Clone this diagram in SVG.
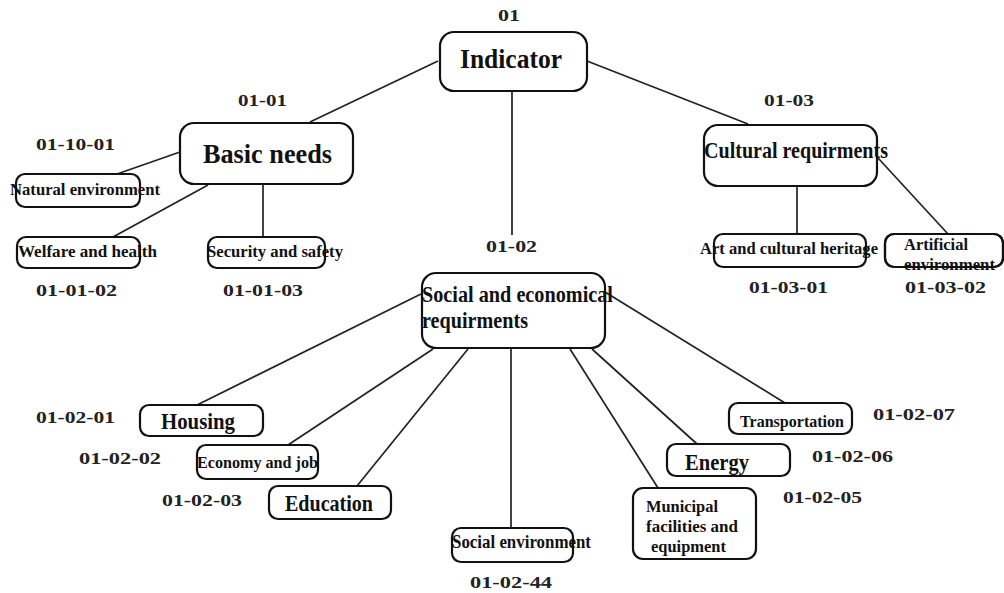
<svg xmlns="http://www.w3.org/2000/svg" width="1004" height="593" viewBox="0 0 1004 593">
<style>
.box{fill:#fff;stroke:#111;stroke-width:2.2}
.bo{fill:none;stroke:#111;stroke-width:2.2}
.t{font-family:"Liberation Serif","Times New Roman",serif;font-weight:bold;fill:#111}
.lb{font-family:"Liberation Serif","Times New Roman",serif;font-weight:bold;fill:#222;font-size:17px}
.c{stroke:#222;stroke-width:1.7;fill:none}
</style>
<rect width="1004" height="593" fill="#fff"/>
<g id="connectors">
<line class="c" x1="438" y1="61" x2="310" y2="122"/>
<line class="c" x1="587" y1="61" x2="748" y2="124"/>
<line class="c" x1="512" y1="91" x2="512" y2="235"/>
<line class="c" x1="180" y1="152" x2="117" y2="174"/>
<line class="c" x1="208" y1="185" x2="113" y2="237"/>
<line class="c" x1="263" y1="185" x2="263" y2="237"/>
<line class="c" x1="797" y1="186" x2="797" y2="233"/>
<line class="c" x1="878" y1="158" x2="948" y2="234"/>
<line class="c" x1="421" y1="294" x2="197" y2="405"/>
<line class="c" x1="433" y1="349" x2="288" y2="445"/>
<line class="c" x1="468" y1="349" x2="357" y2="486"/>
<line class="c" x1="511" y1="348" x2="511" y2="528"/>
<line class="c" x1="570" y1="349" x2="658" y2="488"/>
<line class="c" x1="592" y1="349" x2="697" y2="444"/>
<line class="c" x1="605" y1="292" x2="785" y2="403"/>
</g>
<g id="n01">
<rect class="box" x="440" y="32" width="147" height="59" rx="14"/>
<text class="t" x="460" y="68" font-size="28" textLength="102" lengthAdjust="spacingAndGlyphs">Indicator</text>
<text class="lb" x="498" y="21" textLength="22" lengthAdjust="spacingAndGlyphs">01</text>
</g>
<g id="n0101">
<rect class="box" x="180" y="123" width="173" height="61" rx="14"/>
<text class="t" x="203" y="163" font-size="27" textLength="129" lengthAdjust="spacingAndGlyphs">Basic needs</text>
<text class="lb" x="238" y="106" textLength="49" lengthAdjust="spacingAndGlyphs">01-01</text>
</g>
<g id="n0103">
<rect class="box" x="704" y="125" width="173" height="61" rx="14"/>
<text class="t" x="704" y="158" font-size="24" textLength="184" lengthAdjust="spacingAndGlyphs">Cultural requirments</text>
<text class="lb" x="764" y="106" textLength="50" lengthAdjust="spacingAndGlyphs">01-03</text>
</g>
<g id="n0102">
<rect class="box" x="422" y="273" width="183" height="75" rx="14"/>
<text class="t" x="422" y="302" font-size="23" textLength="191" lengthAdjust="spacingAndGlyphs">Social and economical</text>
<text class="t" x="422" y="328" font-size="23" textLength="106" lengthAdjust="spacingAndGlyphs">requirments</text>
<text class="lb" x="486" y="252" textLength="51" lengthAdjust="spacingAndGlyphs">01-02</text>
</g>
<g id="n011001">
<rect class="box" x="16" y="174" width="124" height="33" rx="9"/>
<text class="t" x="10" y="195" font-size="17" textLength="150" lengthAdjust="spacingAndGlyphs">Natural environment</text>
<text class="lb" x="36" y="150" textLength="79" lengthAdjust="spacingAndGlyphs">01-10-01</text>
</g>
<g id="n010102">
<rect class="box" x="17" y="237" width="123" height="31" rx="9"/>
<text class="t" x="18" y="257" font-size="17" textLength="139" lengthAdjust="spacingAndGlyphs">Welfare and health</text>
<text class="lb" x="36" y="296" textLength="81" lengthAdjust="spacingAndGlyphs">01-01-02</text>
</g>
<g id="n010103">
<rect class="box" x="208" y="237" width="117" height="31" rx="9"/>
<text class="t" x="207" y="257" font-size="17" textLength="136" lengthAdjust="spacingAndGlyphs">Security and safety</text>
<text class="lb" x="223" y="296" textLength="80" lengthAdjust="spacingAndGlyphs">01-01-03</text>
</g>
<g id="n010301">
<rect class="box" x="714" y="234" width="152" height="33" rx="9"/>
<text class="t" x="700" y="254" font-size="17" textLength="178" lengthAdjust="spacingAndGlyphs">Art and cultural heritage</text>
<text class="lb" x="749" y="293" textLength="79" lengthAdjust="spacingAndGlyphs">01-03-01</text>
</g>
<g id="n010302">
<rect class="box" x="885" y="234" width="118" height="33" rx="9"/>
<text class="t" x="904" y="250" font-size="17" textLength="64" lengthAdjust="spacingAndGlyphs">Artificial</text>
<text class="t" x="904" y="270" font-size="17" textLength="91" lengthAdjust="spacingAndGlyphs">environment</text>
<rect class="bo" x="885" y="234" width="118" height="33" rx="9"/>
<text class="lb" x="905" y="293" textLength="81" lengthAdjust="spacingAndGlyphs">01-03-02</text>
</g>
<g id="n010201">
<rect class="box" x="140" y="405" width="123" height="31" rx="9"/>
<text class="t" x="161" y="429" font-size="23" textLength="74" lengthAdjust="spacingAndGlyphs">Housing</text>
<text class="lb" x="36" y="423" textLength="79" lengthAdjust="spacingAndGlyphs">01-02-01</text>
</g>
<g id="n010202">
<rect class="box" x="197" y="445" width="121" height="34" rx="9"/>
<text class="t" x="197" y="468" font-size="17" textLength="121" lengthAdjust="spacingAndGlyphs">Economy and job</text>
<text class="lb" x="79" y="464" textLength="82" lengthAdjust="spacingAndGlyphs">01-02-02</text>
</g>
<g id="n010203">
<rect class="box" x="269" y="486" width="122" height="33" rx="9"/>
<text class="t" x="285" y="511" font-size="24" textLength="88" lengthAdjust="spacingAndGlyphs">Education</text>
<text class="lb" x="162" y="506" textLength="80" lengthAdjust="spacingAndGlyphs">01-02-03</text>
</g>
<g id="n010244">
<rect class="box" x="452" y="528" width="121" height="34" rx="9"/>
<text class="t" x="452" y="548" font-size="18" textLength="139" lengthAdjust="spacingAndGlyphs">Social environment</text>
<text class="lb" x="470" y="588" textLength="82" lengthAdjust="spacingAndGlyphs">01-02-44</text>
</g>
<g id="n010205">
<rect class="box" x="633" y="488" width="123" height="71" rx="10"/>
<text class="t" x="646" y="512" font-size="17" textLength="72" lengthAdjust="spacingAndGlyphs">Municipal</text>
<text class="t" x="646" y="532" font-size="17" textLength="92" lengthAdjust="spacingAndGlyphs">facilities and</text>
<text class="t" x="651" y="552" font-size="17" textLength="75" lengthAdjust="spacingAndGlyphs">equipment</text>
<text class="lb" x="783" y="503" textLength="79" lengthAdjust="spacingAndGlyphs">01-02-05</text>
</g>
<g id="n010206">
<rect class="box" x="667" y="444" width="123" height="32" rx="9"/>
<text class="t" x="685" y="470" font-size="23" textLength="64" lengthAdjust="spacingAndGlyphs">Energy</text>
<text class="lb" x="812" y="462" textLength="81" lengthAdjust="spacingAndGlyphs">01-02-06</text>
</g>
<g id="n010207">
<rect class="box" x="729" y="403" width="123" height="31" rx="9"/>
<text class="t" x="740" y="427" font-size="17" textLength="104" lengthAdjust="spacingAndGlyphs">Transportation</text>
<text class="lb" x="873" y="420" textLength="82" lengthAdjust="spacingAndGlyphs">01-02-07</text>
</g>
</svg>
